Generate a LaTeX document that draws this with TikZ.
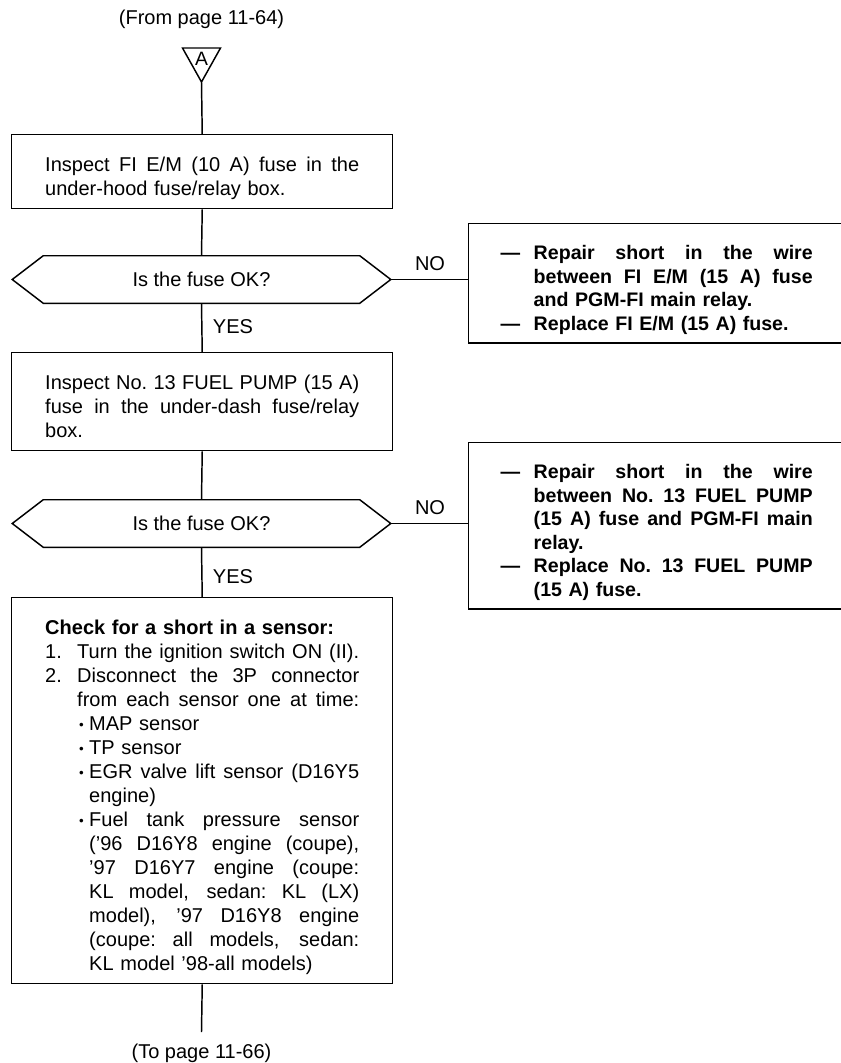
\documentclass[tikz,border=0pt]{standalone}
\usepackage{fontspec}
\setmainfont{Liberation Sans}
\usetikzlibrary{calc}
\newcommand{\tstrut}{\rule{0pt}{27.75pt}}
\newcommand{\rtstrut}{\rule{0pt}{27pt}}
\newcommand{\bstrut}{\rule[-9.75pt]{0pt}{9.75pt}}
% justified words: #1 = full text width, #2 = width already used on the line, #3 = words
\newcommand{\jline}[3]{\leavevmode\hbox to \dimexpr#1-#2\relax{\spaceskip=\fontdimen2\font plus 1fil\xspaceskip=\spaceskip #3}}
\newcommand{\jl}[2]{\jline{235.5pt}{#1}{#2}}
\newcommand{\jr}[2]{\jline{234pt}{#1}{#2}}
\newcommand{\bul}{\hspace*{25.5pt}\makebox[7.5pt][l]{\raisebox{1pt}{\fontsize{10pt}{10pt}\selectfont •}}}
\newcommand{\dsh}{\makebox[24.75pt][l]{—}}
\newcommand{\num}[1]{\makebox[24pt][l]{#1}}
\tikzset{
  flow/.style={line width=1.1pt},
  lbox/.style={draw, line width=1.1pt, rectangle, anchor=north west, inner xsep=25.125pt, inner ysep=0pt,
    text width=235.5pt, align=left, font=\fontsize{15pt}{18pt}\selectfont},
  rbox/.style={draw, line width=1.1pt, rectangle, anchor=north west, inner xsep=24pt, inner ysep=0pt,
    text width=234pt, align=left, font=\bfseries\fontsize{14.7pt}{17.6pt}\selectfont},
  dec/.style={rectangle, minimum width=283.5pt, minimum height=35.25pt, inner sep=0pt,
    font=\fontsize{15pt}{18pt}\selectfont},
  hexa/.style={line width=1.1pt, line join=miter},
  lab/.style={font=\fontsize{15pt}{18pt}\selectfont, inner sep=0pt},
}
\begin{document}
\begin{tikzpicture}[x=0.75pt,y=-0.75pt]
\fill[white] (0,0) rectangle (840,1063);
\useasboundingbox (0,0) rectangle (840,1063);

% start marker
\node[lab] (from) at (201.5,19) {(From page 11-64)};
\coordinate (ta) at (201.5,82);
\draw[flow, line join=miter] (182.5,48) -- (220.5,48) -- (ta) -- cycle;
\node[lab, font=\fontsize{14.5pt}{14.5pt}\selectfont] (A) at (201.5,59) {A};

% box 1
\node[lbox] (b1) at (11,134) {\tstrut\jl{0pt}{Inspect FI E/M (10 A) fuse in the}\\
under-hood fuse/relay box.\bstrut};

% decision 1
\node[dec] (d1) at (201.5,279.5) {Is the fuse OK?};
\draw[hexa] (d1.west) -- ([xshift=23.25pt]d1.north west) -- ([xshift=-23.25pt]d1.north east)
  -- (d1.east) -- ([xshift=-23.25pt]d1.south east) -- ([xshift=23.25pt]d1.south west) -- cycle;

% NO box 1
\node[rbox] (n1) at (468,223) {\rtstrut\dsh\jr{24.75pt}{Repair short in the wire}\\
\hspace*{24.75pt}\jr{24.75pt}{between FI E/M (15 A) fuse}\\
\hspace*{24.75pt}and PGM-FI main relay.\\
\dsh Replace FI E/M (15 A) fuse.\bstrut};

% box 2
\node[lbox] (b2) at (11,352) {\tstrut\jl{0pt}{Inspect No. 13 FUEL PUMP (15 A)}\\
\jl{0pt}{fuse in the under-dash fuse/relay}\\
box.\bstrut};

% decision 2
\node[dec] (d2) at (201.5,523.5) {Is the fuse OK?};
\draw[hexa] (d2.west) -- ([xshift=23.25pt]d2.north west) -- ([xshift=-23.25pt]d2.north east)
  -- (d2.east) -- ([xshift=-23.25pt]d2.south east) -- ([xshift=23.25pt]d2.south west) -- cycle;

% NO box 2
\node[rbox] (n2) at (468,442) {\rtstrut\dsh\jr{24.75pt}{Repair short in the wire}\\
\hspace*{24.75pt}\jr{24.75pt}{between No. 13 FUEL PUMP}\\
\hspace*{24.75pt}\jr{24.75pt}{(15 A) fuse and PGM-FI main}\\
\hspace*{24.75pt}relay.\\
\dsh\jr{24.75pt}{Replace No. 13 FUEL PUMP}\\
\hspace*{24.75pt}(15 A) fuse.\bstrut};

% box 3
\node[lbox] (b3) at (11,597) {\tstrut\textbf{Check for a short in a sensor:}\\
\num{1.}\jl{24pt}{Turn the ignition switch ON (II).}\\
\num{2.}\jl{24pt}{Disconnect the 3P connector}\\
\hspace*{24pt}\jl{24pt}{from each sensor one at time:}\\
\bul MAP sensor\\
\bul TP sensor\\
\bul\jl{33pt}{EGR valve lift sensor (D16Y5}\\
\hspace*{33pt}engine)\\
\bul\jl{33pt}{Fuel tank pressure sensor}\\
\hspace*{33pt}\jl{33pt}{(’96 D16Y8 engine (coupe),}\\
\hspace*{33pt}\jl{33pt}{’97 D16Y7 engine (coupe:}\\
\hspace*{33pt}\jl{33pt}{KL model, sedan: KL (LX)}\\
\hspace*{33pt}\jl{33pt}{model), ’97 D16Y8 engine}\\
\hspace*{33pt}\jl{33pt}{(coupe: all models, sedan:}\\
\hspace*{33pt}KL model ’98-all models)\bstrut};

% end
\coordinate (tend) at (201.5,1032);
\node[lab] (to) at (201.5,1053) {(To page 11-66)};

% connectors
\draw[flow] (ta) -- (b1.north);
\draw[flow] (b1.south) -- (d1.north);
\draw[flow] (d1.south) -- (b2.north);
\draw[flow] (d1.east) -- (d1.east -| n1.west);
\draw[flow] (b2.south) -- (d2.north);
\draw[flow] (d2.south) -- (b3.north);
\draw[flow] (d2.east) -- (d2.east -| n2.west);
\draw[flow] (b3.south) -- (tend);

% labels
\node[lab] (no1) at (430,264) {NO};
\node[lab] (yes1) at (233,327) {YES};
\node[lab] (no2) at (430,508) {NO};
\node[lab] (yes2) at (233,577) {YES};
\end{tikzpicture}
\end{document}
